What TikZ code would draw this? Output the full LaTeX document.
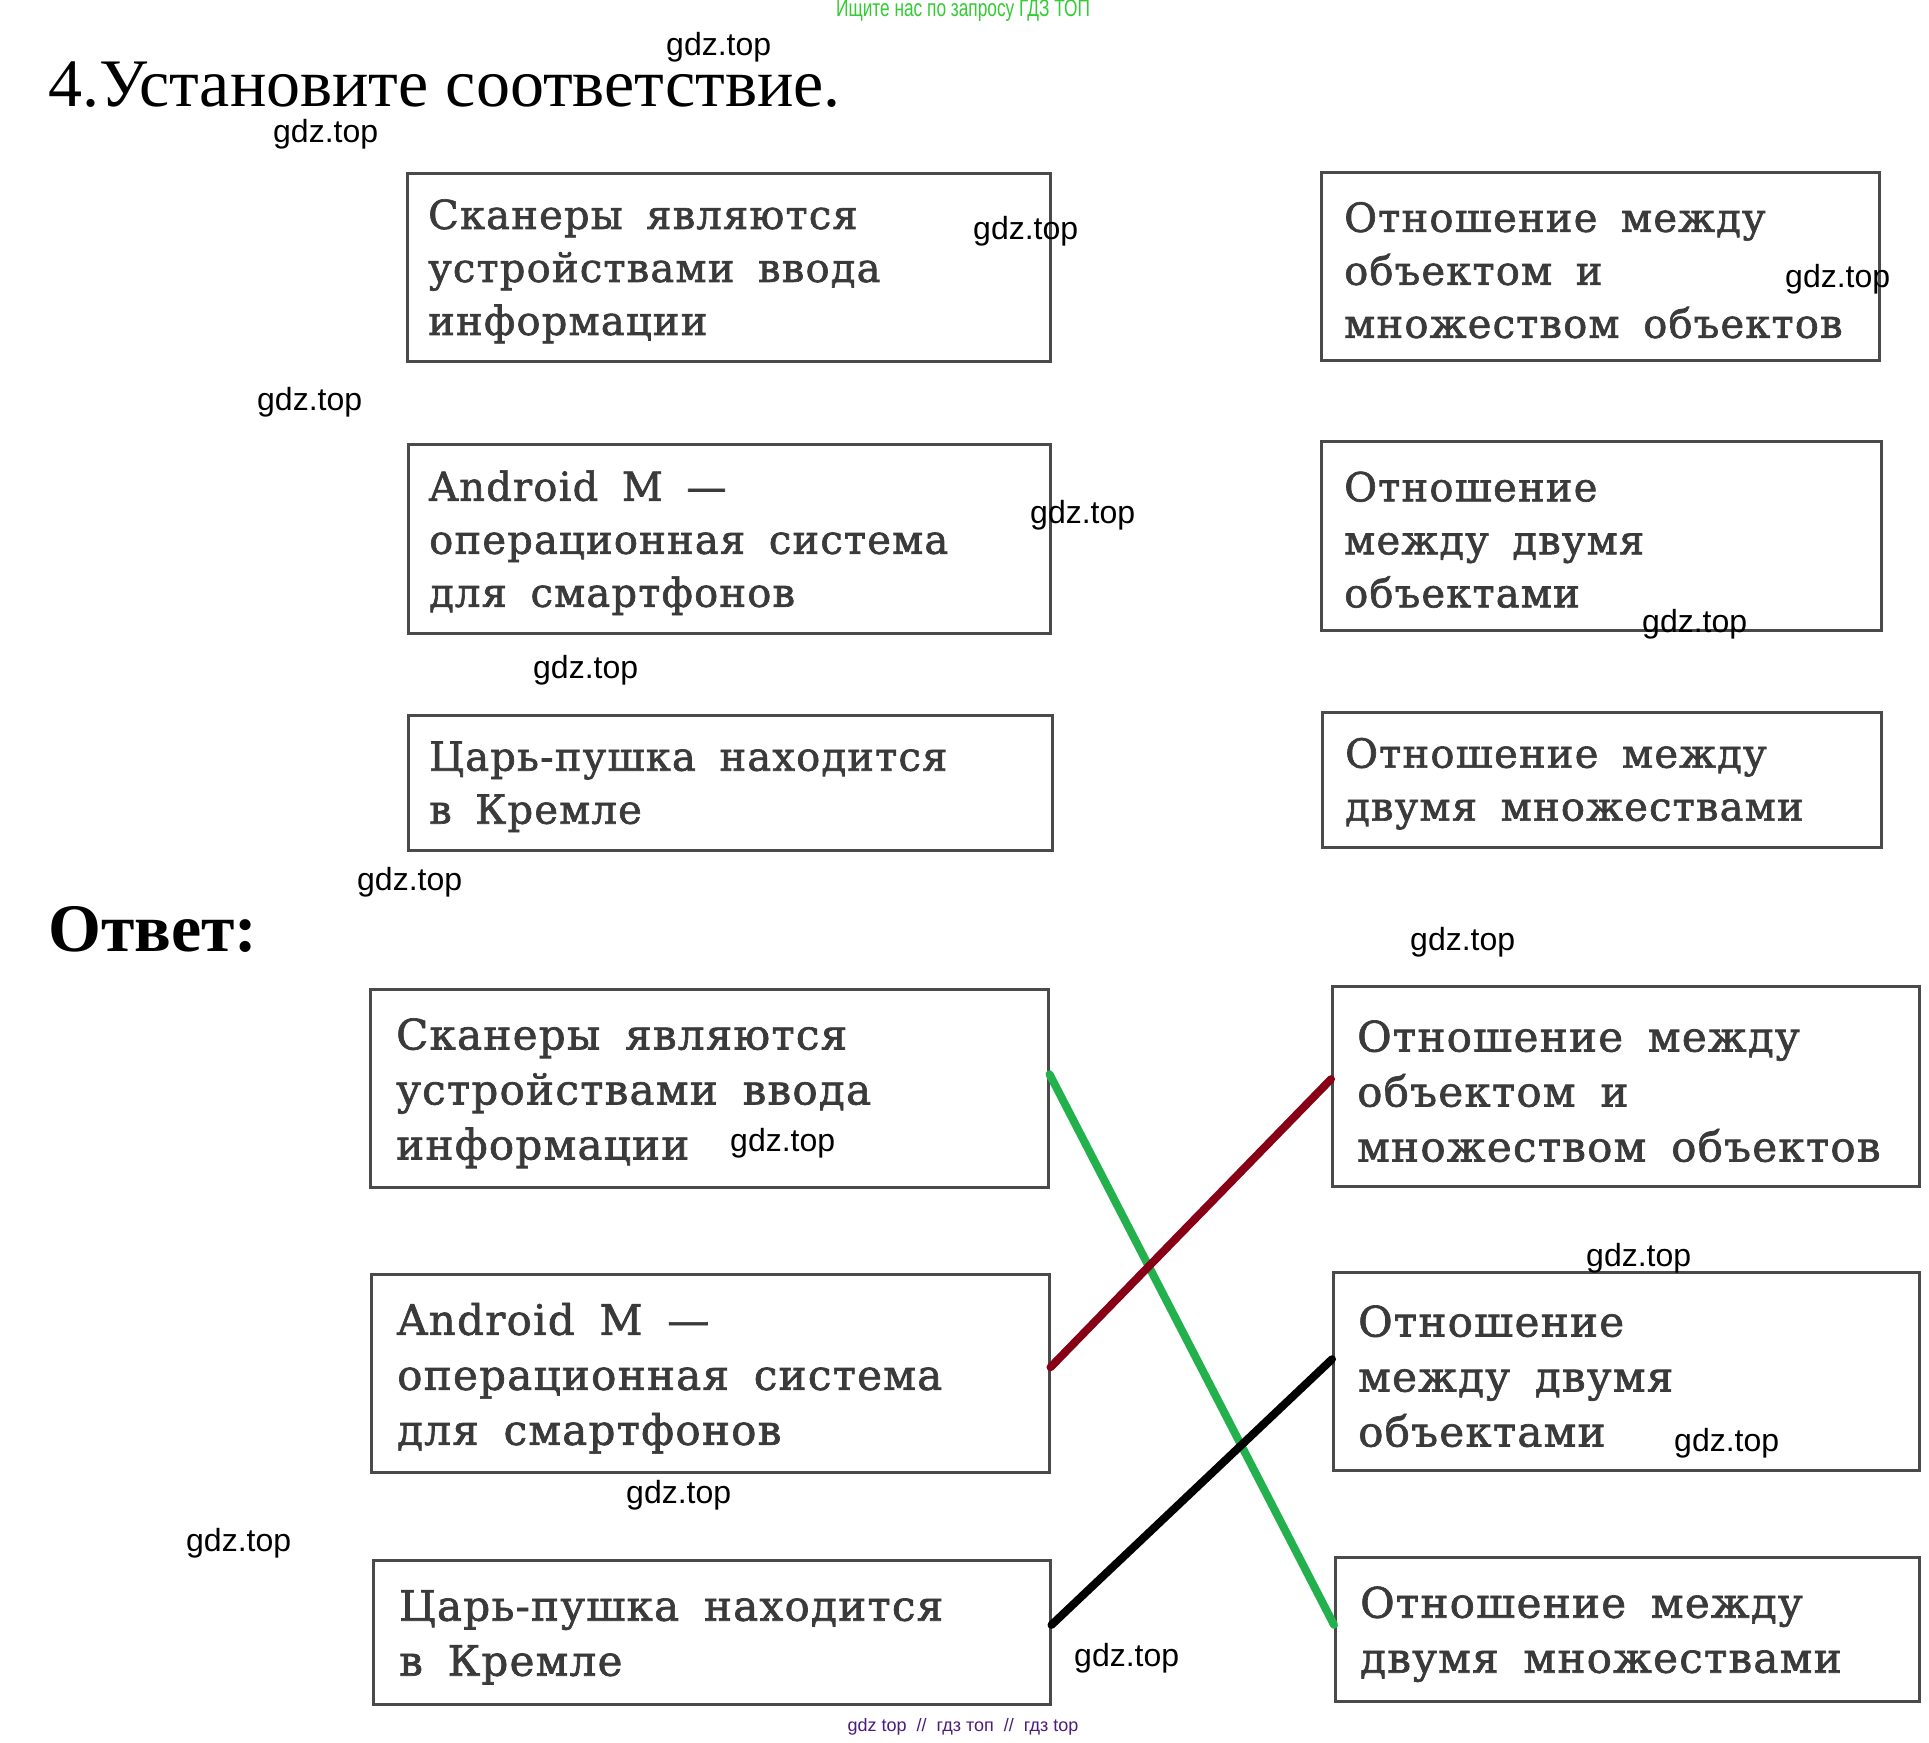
\documentclass[tikz,border=0pt]{standalone}
\usepackage{fontspec}
\setmainfont{Liberation Serif}
\newfontfamily\boxfont[WordSpace=1.7,LetterSpace=3,FakeBold=1.6]{DejaVu Serif}
\newfontfamily\wmfont{Liberation Sans}
\newfontfamily\narrowfont[FakeStretch=0.72]{Liberation Sans}
\usetikzlibrary{calc}
\definecolor{txtgray}{HTML}{3A3A3A}
\definecolor{boxgray}{HTML}{4A4A4A}
\definecolor{pgreen}{HTML}{22B14C}
\definecolor{pred}{HTML}{880015}
\definecolor{hdrgreen}{HTML}{33CC33}
\definecolor{ftpurple}{HTML}{4B1C7C}
\begin{document}
\begin{tikzpicture}[x=1pt,y=-1pt,
  frame/.style={draw=boxgray, line width=2.5pt, rectangle, inner sep=0pt, anchor=north west},
  toptext/.style={anchor=west, align=left, inner sep=0pt, text=txtgray, font=\boxfont\fontsize{40}{53}\selectfont},
  bottext/.style={anchor=west, align=left, inner sep=0pt, text=txtgray, font=\boxfont\fontsize{42}{55}\selectfont},
  wm/.style={anchor=west, inner sep=0pt, font=\wmfont\fontsize{32}{32}\selectfont},
  link/.style={line width=8pt, line cap=round}]
\useasboundingbox (0,0) rectangle (1929,1742);
\fill[white] (0,0) rectangle (1929,1742);

% header and footer
\node[font=\narrowfont\fontsize{24}{24}\selectfont, text=hdrgreen, inner sep=0pt] (hdr) at (963,11) {Ищите нас по запросу ГДЗ ТОП};
\node[font=\wmfont\fontsize{18}{18}\selectfont, text=ftpurple, inner sep=0pt] (ftr) at (963,1727) {gdz top \ // \ гдз топ \ // \ гдз top};

% titles
\node[anchor=base west, inner sep=0pt, font=\fontsize{68}{68}\selectfont] (title) at (48,107) {4.Установите соответствие.};
\node[anchor=base west, inner sep=0pt, font=\bfseries\fontsize{68}{68}\selectfont] (answer) at (48,951) {Ответ:};

% top boxes
\node[frame, minimum width=643pt, minimum height=188pt] (L1) at (406,172) {};
\node[frame, minimum width=642pt, minimum height=189pt] (L2) at (407,443) {};
\node[frame, minimum width=644pt, minimum height=135pt] (L3) at (407,714) {};
\node[frame, minimum width=558pt, minimum height=188pt] (R1) at (1320,171) {};
\node[frame, minimum width=560pt, minimum height=189pt] (R2) at (1320,440) {};
\node[frame, minimum width=559pt, minimum height=135pt] (R3) at (1321,711) {};

\node[toptext] (L1t) at ($(L1.west)+(22,4)$) {Сканеры являются\\устройствами ввода\\информации};
\node[toptext] (L2t) at ($(L2.west)+(22,4)$) {Android M —\\операционная система\\для смартфонов};
\node[toptext] (L3t) at ($(L3.west)+(22,4)$) {Царь-пушка находится\\в Кремле};
\node[toptext] (R1t) at ($(R1.west)+(24,4)$) {Отношение между\\объектом и\\множеством объектов};
\node[toptext] (R2t) at ($(R2.west)+(24,4)$) {Отношение\\между двумя\\объектами};
\node[toptext] (R3t) at ($(R3.west)+(24,4)$) {Отношение между\\двумя множествами};

% bottom boxes
\node[frame, minimum width=678pt, minimum height=198pt] (BL1) at (369,988) {};
\node[frame, minimum width=678pt, minimum height=198pt] (BL2) at (370,1273) {};
\node[frame, minimum width=677pt, minimum height=144pt] (BL3) at (372,1559) {};
\node[frame, minimum width=587pt, minimum height=200pt] (BR1) at (1331,985) {};
\node[frame, minimum width=586pt, minimum height=198pt] (BR2) at (1332,1271) {};
\node[frame, minimum width=584pt, minimum height=144pt] (BR3) at (1334,1556) {};

\node[bottext] (BL1t) at ($(BL1.west)+(27,5)$) {Сканеры являются\\устройствами ввода\\информации};
\node[bottext] (BL2t) at ($(BL2.west)+(27,5)$) {Android M —\\операционная система\\для смартфонов};
\node[bottext] (BL3t) at ($(BL3.west)+(27,5)$) {Царь-пушка находится\\в Кремле};
\node[bottext] (BR1t) at ($(BR1.west)+(26,5)$) {Отношение между\\объектом и\\множеством объектов};
\node[bottext] (BR2t) at ($(BR2.west)+(26,5)$) {Отношение\\между двумя\\объектами};
\node[bottext] (BR3t) at ($(BR3.west)+(26,5)$) {Отношение между\\двумя множествами};

% connectors
\draw[link, pgreen] ($(BL1.north east)!0.43!(BL1.south east)$) -- ($(BR3.north west)!0.47!(BR3.south west)$);
\draw[link, pred] ($(BL2.north east)!0.47!(BL2.south east)$) -- ($(BR1.north west)!0.465!(BR1.south west)$);
\draw[link, black] ($(BL3.north east)!0.45!(BL3.south east)$) -- ($(BR2.north west)!0.44!(BR2.south west)$);

% watermarks
\node[wm] (w1) at (666,47) {gdz.top};
\node[wm] (w2) at (273,134) {gdz.top};
\node[wm] (w3) at (973,231) {gdz.top};
\node[wm] (w4) at (1785,279) {gdz.top};
\node[wm] (w5) at (257,402) {gdz.top};
\node[wm] (w6) at (1030,515) {gdz.top};
\node[wm] (w7) at (1642,624) {gdz.top};
\node[wm] (w8) at (533,670) {gdz.top};
\node[wm] (w9) at (357,882) {gdz.top};
\node[wm] (w10) at (1410,942) {gdz.top};
\node[wm] (w11) at (730,1143) {gdz.top};
\node[wm] (w12) at (1586,1258) {gdz.top};
\node[wm] (w13) at (1674,1443) {gdz.top};
\node[wm] (w14) at (626,1495) {gdz.top};
\node[wm] (w15) at (186,1543) {gdz.top};
\node[wm] (w16) at (1074,1658) {gdz.top};
\end{tikzpicture}
\end{document}
